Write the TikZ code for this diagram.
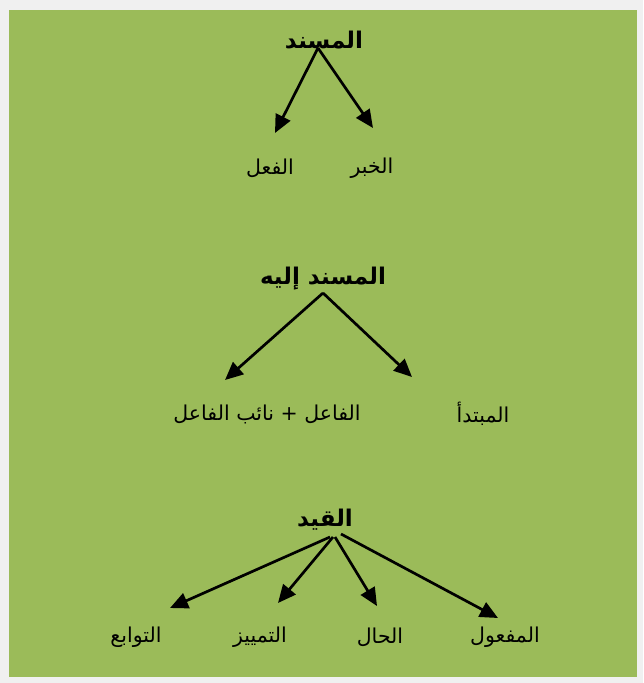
\documentclass[tikz,border=0pt]{standalone}
\usepackage{fontspec}
\newfontfamily\arabicfont[Script=Arabic]{DejaVu Sans}
\TeXXeTstate=1
\usetikzlibrary{arrows.meta}
\definecolor{bggreen}{HTML}{9BBB59}
\definecolor{bggray}{HTML}{F0F0F0}
\begin{document}
\begin{tikzpicture}[x=1pt,y=-1pt,
  lbl/.style={font=\arabicfont\fontsize{20.5}{24}\selectfont, inner sep=0pt},
  head/.style={font=\arabicfont\bfseries\fontsize{23}{27}\selectfont, inner sep=0pt},
  arr/.style={line width=2.7pt, -{Triangle[length=18pt,width=16pt]}}]
\fill[bggray] (0,0) rectangle (643,683);
\fill[bggreen] (9,10) rectangle (637,677);
\useasboundingbox (0,0) rectangle (643,683);

% tree 1
\node[head] (a) at (324,40) {\beginR المسند\endR};
\node[lbl] (a1) at (270,168) {\beginR الفعل\endR};
\node[lbl] (a2) at (372,168) {\beginR الخبر\endR};
\coordinate (as) at (318,48);
\coordinate (at1) at (275,133);
\coordinate (at2) at (373,128);
\draw[arr] (as) -- (at1);
\draw[arr] (as) -- (at2);

% tree 2
\node[head] (b) at (323,279) {\beginR المسند إليه\endR};
\node[lbl] (b1) at (267,414) {\beginR الفاعل + نائب الفاعل\endR};
\node[lbl] (b2) at (483,414) {\beginR المبتدأ\endR};
\coordinate (bs) at (323,293);
\coordinate (bt1) at (225,380);
\coordinate (bt2) at (412,377);
\draw[arr] (bs) -- (bt1);
\draw[arr] (bs) -- (bt2);

% tree 3
\node[head] (c) at (325,520) {\beginR القيد\endR};
\node[lbl] (c1) at (136,637) {\beginR التوابع\endR};
\node[lbl] (c2) at (260,637) {\beginR التمييز\endR};
\node[lbl] (c3) at (380,637) {\beginR الحال\endR};
\node[lbl] (c4) at (505,637) {\beginR المفعول\endR};
\coordinate (cs1) at (330,537);
\coordinate (cs2) at (333,537);
\coordinate (cs3) at (335,537);
\coordinate (cs4) at (341,534);
\coordinate (ct1) at (170,608);
\coordinate (ct2) at (278,603);
\coordinate (ct3) at (377,606);
\coordinate (ct4) at (498,618);
\draw[arr] (cs1) -- (ct1);
\draw[arr] (cs2) -- (ct2);
\draw[arr] (cs3) -- (ct3);
\draw[arr] (cs4) -- (ct4);
\end{tikzpicture}
\end{document}
